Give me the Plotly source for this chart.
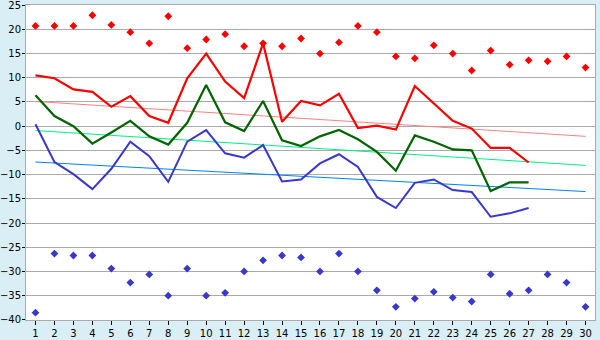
import plotly.graph_objects as go

days = list(range(1, 31))
day_line = list(range(1, 28))

max_points = [20.7, 20.7, 20.7, 22.9, 20.9, 19.4, 17.1, 22.7, 16.1, 17.9,
              19.0, 16.5, 17.1, 16.5, 18.1, 15.0, 17.3, 20.7, 19.4, 14.4,
              14.0, 16.7, 15.0, 11.5, 15.6, 12.7, 13.6, 13.4, 14.4, 12.1]
min_points = [-38.5, -26.3, -26.7, -26.7, -29.4, -32.3, -30.6, -35.0, -29.4, -35.0,
              -34.4, -30.0, -27.7, -26.7, -27.1, -30.0, -26.3, -30.0, -33.9, -37.3,
              -35.6, -34.2, -35.4, -36.2, -30.6, -34.6, -33.9, -30.6, -32.3, -37.3]
red_line = [10.5, 9.9, 7.6, 7.1, 4.0, 6.2, 2.1, 0.7, 9.9, 15.0,
            9.2, 5.8, 17.1, 0.9, 5.2, 4.3, 6.7, -0.4, 0.1, -0.7,
            8.3, 4.8, 1.1, -0.5, -4.5, -4.5, -7.5]
green_line = [6.4, 2.1, 0.0, -3.6, -1.3, 1.1, -2.1, -3.8, 0.7, 8.5,
              0.8, -1.0, 5.2, -2.9, -4.1, -2.1, -0.8, -2.7, -5.3, -9.2,
              -1.9, -3.2, -4.8, -5.0, -13.4, -11.6, -11.6]
blue_line = [0.4, -7.4, -9.9, -13.0, -8.8, -3.2, -6.2, -11.5, -3.2, -0.8,
             -5.6, -6.5, -3.9, -11.4, -11.0, -7.7, -5.8, -8.4, -14.6, -16.9,
             -11.7, -11.0, -13.2, -13.6, -18.7, -18.0, -16.9]
trend_x = [1, 30]
red_trend = [5.1, -2.1]
green_trend = [-0.9, -8.1]
blue_trend = [-7.4, -13.5]
x_ticks = [str(d) for d in days]
y_ticks = [25, 20, 15, 10, 5, 0, -5, -10, -15, -20, -25, -30, -35, -40]

fig = go.Figure()
fig.add_trace(go.Scatter(x=trend_x, y=red_trend, mode="lines",
                         line=dict(color="#FF8080", width=1)))
fig.add_trace(go.Scatter(x=trend_x, y=green_trend, mode="lines",
                         line=dict(color="#00F080", width=1)))
fig.add_trace(go.Scatter(x=trend_x, y=blue_trend, mode="lines",
                         line=dict(color="#0080FF", width=1)))
fig.add_trace(go.Scatter(x=day_line, y=blue_line, mode="lines",
                         line=dict(color="#3838CC", width=2)))
fig.add_trace(go.Scatter(x=day_line, y=green_line, mode="lines",
                         line=dict(color="#006400", width=2.2)))
fig.add_trace(go.Scatter(x=day_line, y=red_line, mode="lines",
                         line=dict(color="#FF0000", width=2.2)))
fig.add_trace(go.Scatter(x=days, y=max_points, mode="markers",
                         marker=dict(symbol="diamond", size=6, color="#FF0000")))
fig.add_trace(go.Scatter(x=days, y=min_points, mode="markers",
                         marker=dict(symbol="diamond", size=6, color="#3838CC")))

fig.update_layout(
    width=600, height=340,
    margin=dict(l=26, r=5, t=5, b=20, autoexpand=False),
    paper_bgcolor="#DAEEF5",
    plot_bgcolor="#FFFFFF",
    showlegend=False,
    font=dict(family="DejaVu Sans", size=10, color="#000000"),
)
fig.update_xaxes(
    range=[0.5, 30.5], tickvals=days, ticktext=x_ticks,
    showgrid=False, zeroline=False, automargin=False,
    ticks="outside", ticklen=4, tickcolor="#000000", tickwidth=1,
    showline=True, linecolor="#AAAAAA", mirror=True,
    tickfont=dict(size=10), ticklabeloverflow="allow",
)
fig.update_yaxes(
    range=[-40.02, 25.02], tickvals=y_ticks,
    showgrid=True, gridcolor="#AAAAAA", gridwidth=1, zeroline=False,
    automargin=False,
    showline=True, linecolor="#AAAAAA", mirror=True,
    ticks="outside", ticklen=3, tickcolor="#000000",
    tickfont=dict(size=10), ticklabeloverflow="allow",
    ticklabelstandoff=-1,
)

fig.write_html("out.html")
